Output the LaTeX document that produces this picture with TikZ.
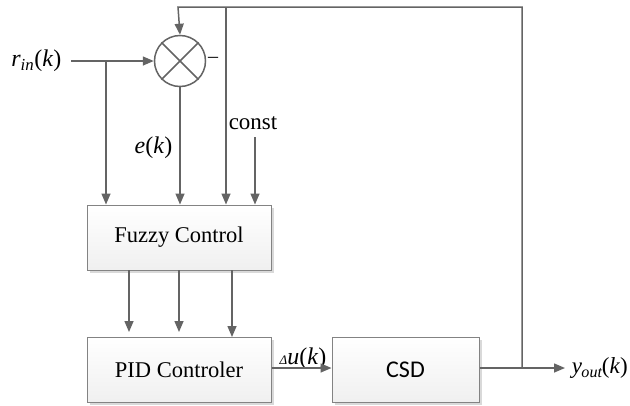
\documentclass[tikz,border=0pt]{standalone}
\usepackage{fontspec}
\setmainfont{Liberation Serif}
\newfontfamily\csdfont{Carlito}
\usetikzlibrary{arrows.meta,shadows}
\definecolor{ln}{HTML}{646464}
\begin{document}
\begin{tikzpicture}[x=1pt,y=-1pt,
  line width=1.5pt,
  conn/.style={draw=ln,-{Triangle[length=11pt,width=9pt]}},
  blk/.style={draw=ln!80,line width=1pt,rectangle,top color=white,bottom color=black!6,
    minimum width=184pt,minimum height=65pt,inner sep=0pt,font=\fontsize{22.5}{24}\selectfont,
    drop shadow={shadow xshift=2.5pt,shadow yshift=-2.5pt,fill=black!15,opacity=1}},
  lbl/.style={inner sep=1pt,font=\fontsize{24}{26}\selectfont}]
\useasboundingbox (0,0) rectangle (630,405);
\node[draw=ln,line width=1.5pt,circle,minimum size=51pt,inner sep=0pt] (sum) at (180,61) {};
\draw[ln] (sum.45) -- (sum.225) (sum.135) -- (sum.315);
\node[blk] (fuzzy) at (179,237.5) {Fuzzy Control};
\node[blk] (pid) at (179,369.5) {PID Controler};
\node[blk,minimum width=147pt,font=\csdfont\fontsize{24}{26}\selectfont] (csd) at (405.5,369.5) {CSD};
% labels
\node[lbl,anchor=east] (rin) at (63,61) {\textit{r}\textsubscript{\textit{in}}(\textit{k})};
\node[lbl,anchor=east] (ek) at (174,148) {\textit{e}(\textit{k})};
\node[lbl,anchor=west,font=\fontsize{23}{25}\selectfont] (const) at (227,123) {const};
\node[lbl,font=\fontsize{20}{22}\selectfont] (minus) at (213,60) {–};
\node[lbl,anchor=south] (du) at (303,371) {{\fontsize{13}{14}\selectfont\textit{Δ}}\textit{u}(\textit{k})};
\node[lbl,anchor=west,font=\fontsize{23}{25}\selectfont] (yout) at (570,368) {\textit{y}\kern-0.5pt\textsubscript{\textit{out}}\kern-1pt(\textit{k})};
% coordinates
\coordinate (rs) at (71,61);
\coordinate (rb) at (106,61);
\coordinate (tl) at (178,7);
\coordinate (tm) at (226,7);
\coordinate (tr) at (522,7);
\coordinate (br) at (522,368);
\coordinate (cst) at (255,137);
\coordinate (out) at (565,368);
% connectors
\draw[conn] (rs) -- (sum.west);
\draw[conn] (rb) -- (rb |- fuzzy.north);
\draw[conn] (sum.south) -- (sum.south |- fuzzy.north);
\draw[conn] (tm) -- (tm |- fuzzy.north);
\draw[conn] (cst) -- (cst |- fuzzy.north);
\draw[conn] (br) -- (tr) -- (tl) -- (sum.north);
\draw[conn] (csd.east |- out) -- (out);
\draw[conn] (129,270) -- (129,332);
\draw[conn] (179,270) -- (179,332);
\draw[conn] (232,270) -- (232,337);
\draw[conn] (pid.east |- br) -- (csd.west |- br);
\end{tikzpicture}
\end{document}
